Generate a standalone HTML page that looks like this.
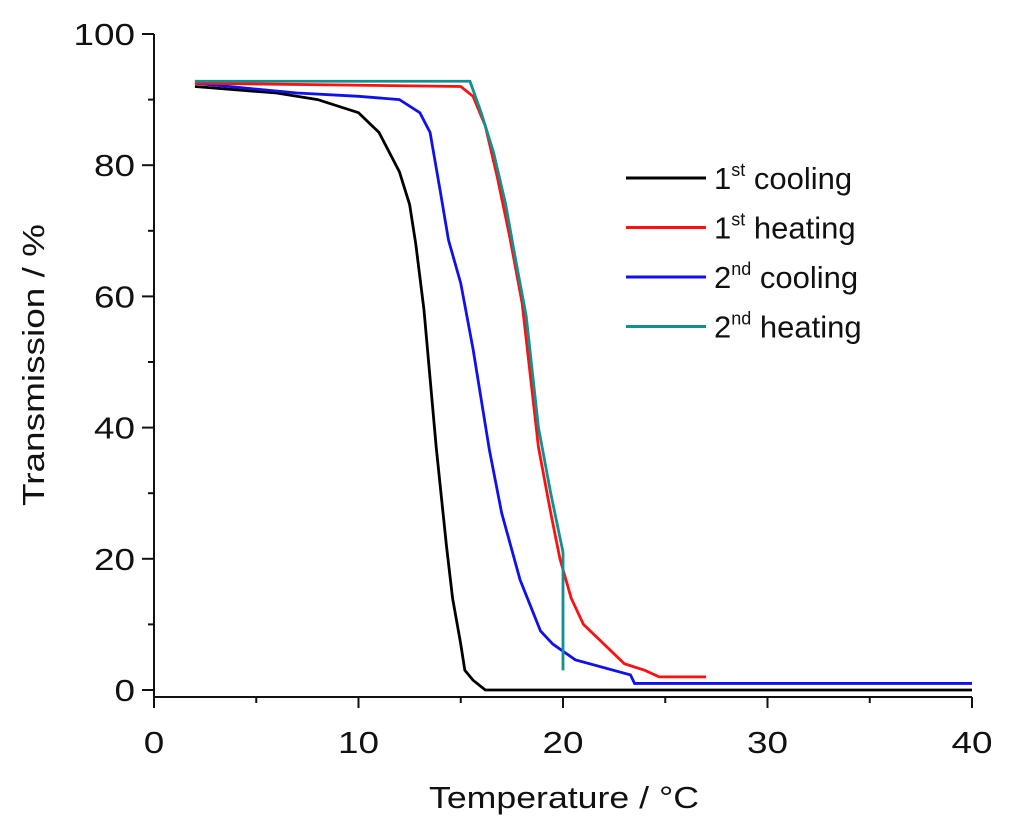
<!DOCTYPE html>
<html><head><meta charset="utf-8"><style>
body{margin:0;background:#fff}
svg text{font-family:"Liberation Sans",Arial,sans-serif;fill:#111}
</style></head><body>
<svg width="1024" height="828">
<g id="axes"></g><g id="plot"></g><g id="legend"></g>
</svg>
<script>
const xTicks=[0,10,20,30,40];
const yTicks=[0,20,40,60,80,100];
const seriesNames=["1st cooling","1st heating","2nd cooling","2nd heating"];
const seriesColors=["#000000","#ff1010","#1010ee","#109090"];
const cool1X=[2,6,8,10,11,12,12.5,12.8,13.2,13.8,14.3,14.6,15,15.2,15.6,16.2,40];
const cool1Y=[92,91,90,88,85,79,74,68,58,37,22,14,7,3,1.5,0,0];
const heat1X=[2,15,15.6,16.2,16.8,17.4,18,18.8,19.4,19.85,20.4,21,21.8,23,24,24.7,27];
const heat1Y=[92.5,92,90.5,86,78,69,59,37,27,20,14,10,7.6,4,3,2,2];
const cool2X=[2,7,10,12,13,13.5,14,14.4,15,15.6,16.4,17,17.9,18.9,19.5,20.6,23.3,23.5,40];
const cool2Y=[92.5,91,90.5,90,88,85,76,68.6,62,52,36.6,27,16.8,9,7,4.6,2.3,1,1];
const heat2X=[2,15.45,16,16.6,17.2,17.6,18.2,18.8,19.4,20,20,20];
const heat2Y=[92.8,92.8,88,82,74,67,57,40,30,21,10,3];
const xs=[cool1X,heat1X,cool2X,heat2X], ys=[cool1Y,heat1Y,cool2Y,heat2Y];
const X=v=>154+v*20.45, Y=v=>690-v*6.56;
const NS="http://www.w3.org/2000/svg";
function mk(t,a,p){const e=document.createElementNS(NS,t);for(const k in a)e.setAttribute(k,a[k]);p.appendChild(e);return e;}
const ax=document.getElementById('axes');
let l=mk('line',{x1:154,y1:34,x2:154,y2:697,stroke:'#111','stroke-width':2},ax);


l=mk('line',{x1:154,y1:697,x2:972,y2:697,stroke:'#111','stroke-width':2},ax);


xTicks.forEach((v,i)=>{mk('line',{x1:X(v),y1:697,x2:X(v),y2:708,stroke:'#111','stroke-width':2},ax);
 if(i<xTicks.length-1)mk('line',{x1:X(v+5),y1:697,x2:X(v+5),y2:703,stroke:'#111','stroke-width':2},ax);
 const s=String(v);
 const t=mk('text',{x:X(v),y:753,'font-size':31,'text-anchor':'middle',textLength:s.length*20.5,lengthAdjust:'spacingAndGlyphs'},ax);t.textContent=s;
 
 });
yTicks.forEach((v,i)=>{mk('line',{x1:142,y1:Y(v),x2:154,y2:Y(v),stroke:'#111','stroke-width':2},ax);
 if(i<yTicks.length-1)mk('line',{x1:148,y1:Y(v+10),x2:154,y2:Y(v+10),stroke:'#111','stroke-width':2},ax);
 const s=String(v);
 const t=mk('text',{x:135,y:Y(v)+11,'font-size':31,'text-anchor':'end',textLength:s.length*20.5,lengthAdjust:'spacingAndGlyphs'},ax);t.textContent=s;
 
 });
let t=mk('text',{x:564,y:808,'font-size':31,'text-anchor':'middle',textLength:270,lengthAdjust:'spacingAndGlyphs'},ax);t.textContent='Temperature / °C';


t=mk('text',{x:44,y:365,'font-size':31,'text-anchor':'middle',textLength:282,lengthAdjust:'spacingAndGlyphs',transform:'rotate(-90 44 365)'},ax);t.textContent='Transmission / %';


const pl=document.getElementById('plot');
const order=[0,2,1,3];
order.forEach(i=>{const p=mk('polyline',{points:xs[i].map((x,j)=>X(x)+','+Y(ys[i][j])).join(' '),fill:'none',stroke:seriesColors[i],'stroke-width':2.8},pl);
 
 });
const lg=document.getElementById('legend');
const sups=["st","st","nd","nd"],words=["cooling","heating","cooling","heating"];
[0,1,2,3].forEach(i=>{const y=178+i*49.5;
 const ln=mk('line',{x1:626,y1:y,x2:706,y2:y,stroke:seriesColors[i],'stroke-width':3},lg);
 
 
 const tx=mk('text',{x:714,y:y+11,'font-size':31},lg);
 
 
 const a=mk('tspan',{},tx);a.textContent=(i<2?'1':'2');
 const b=mk('tspan',{'font-size':18,dy:-13},tx);b.textContent=sups[i];
 const c=mk('tspan',{dy:13},tx);c.textContent=' '+words[i];});
</script>
</body></html>
